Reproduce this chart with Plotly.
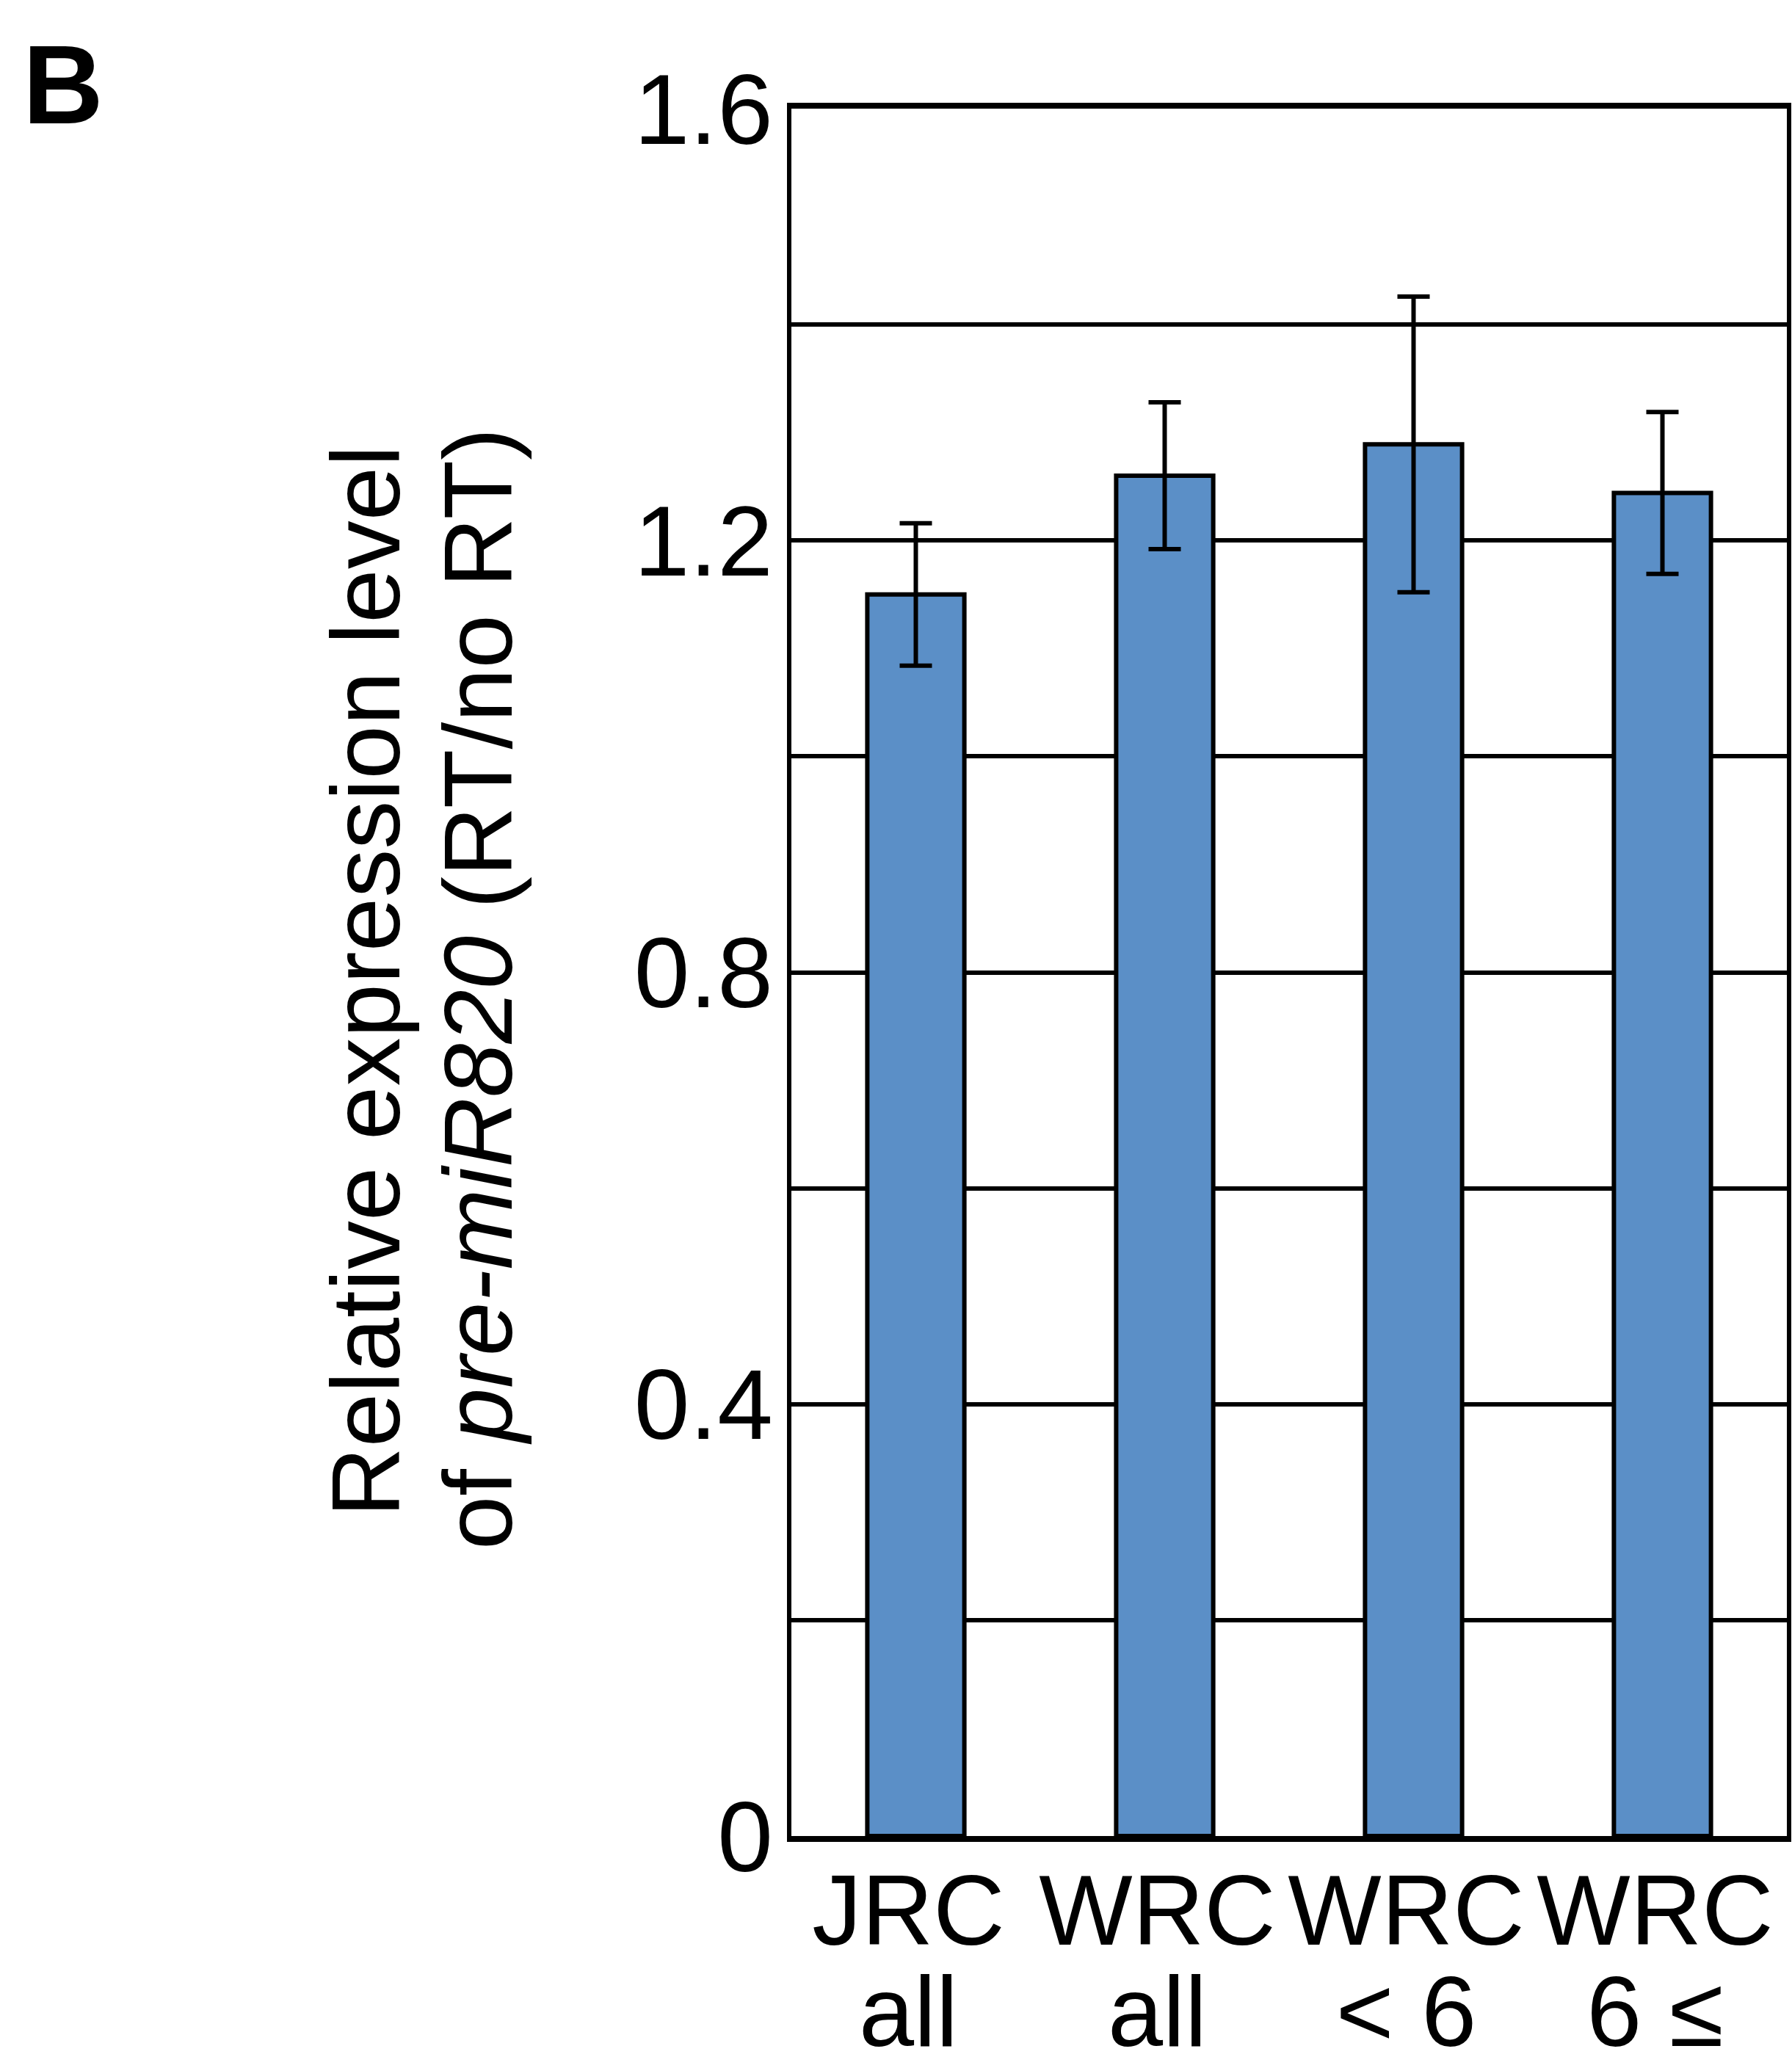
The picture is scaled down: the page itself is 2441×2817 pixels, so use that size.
import plotly.graph_objects as go

categories = ["JRC all", "WRC all", "WRC < 6", "WRC 6 ≤"]
label_line1 = ["JRC", "WRC", "WRC", "WRC"]
label_line2 = ["all", "all", "< 6", "6 ≤"]
values = [1.150, 1.260, 1.289, 1.244]
errors = [0.066, 0.068, 0.137, 0.075]
tick_vals = [0, 0.2, 0.4, 0.6, 0.8, 1.0, 1.2, 1.4, 1.6]
tick_text = ["0", "", "0.4", "", "0.8", "", "1.2", "", "1.6"]
title_line1 = "Relative expression level"
title_line2 = "of <i>pre-miR820</i> (RT/no RT)"

FONT = "Liberation Sans, Arial, sans-serif"
BAR_COLOR = "#5B8FC7"

fig = go.Figure()
fig.add_trace(go.Bar(
    x=categories,
    y=values,
    width=0.39,
    marker=dict(color=BAR_COLOR, line=dict(color="black", width=6)),
    error_y=dict(type="data", array=errors, visible=True, color="black",
                 thickness=6, width=22),
    hoverinfo="skip",
))
# invisible helper trace so the second label row (second axis) is drawn
fig.add_trace(go.Scatter(
    x=[0, len(categories) - 1], y=[0, 0], xaxis="x2", yaxis="y",
    mode="markers", marker=dict(opacity=0), hoverinfo="skip", showlegend=False,
))

fig.update_layout(
    width=2441,
    height=2817,
    margin=dict(l=1078, r=7, t=148, b=316, pad=0),
    plot_bgcolor="white",
    paper_bgcolor="white",
    showlegend=False,
    font=dict(family=FONT, color="black"),
    xaxis=dict(
        type="category",
        range=[-0.5, 3.5],
        tickmode="array", tickvals=categories, ticktext=label_line1,
        showline=True, linecolor="black", linewidth=8, mirror=True,
        ticks="", showgrid=False, automargin=False,
        tickfont=dict(size=135, family=FONT, color="black"),
        ticklabelstandoff=-22,
        ticklabelshift=-10,
    ),
    xaxis2=dict(
        overlaying="x", anchor="y", side="bottom",
        range=[-0.5, 3.5],
        tickmode="array", tickvals=list(range(len(categories))), ticktext=label_line2,
        showline=True, linecolor="black", linewidth=8,
        ticks="", showgrid=False, zeroline=False, automargin=False,
        tickfont=dict(size=135, family=FONT, color="black"),
        ticklabelstandoff=116,
        ticklabelshift=-10,
    ),
    yaxis=dict(
        range=[0, 1.6],
        tickmode="array", tickvals=tick_vals, ticktext=tick_text,
        showline=True, linecolor="black", linewidth=6, mirror=True,
        ticks="", showgrid=True, gridcolor="black", gridwidth=6,
        zeroline=False, automargin=False,
        tickfont=dict(size=136, family=FONT, color="black"),
        ticklabelstandoff=-8,
    ),
)

fig.add_annotation(
    text=title_line1,
    xref="paper", yref="paper", x=-0.4277, y=0.4949,
    xanchor="center", yanchor="middle", textangle=-90,
    showarrow=False, font=dict(size=132, family=FONT, color="black"),
)
fig.add_annotation(
    text=title_line2,
    xref="paper", yref="paper", x=-0.3149, y=0.4904,
    xanchor="center", yanchor="middle", textangle=-90,
    showarrow=False, font=dict(size=132, family=FONT, color="black"),
)
fig.add_annotation(
    text="<b>B</b>",
    xref="paper", yref="paper", x=-0.7736, y=1.014,
    xanchor="left", yanchor="middle",
    showarrow=False, font=dict(size=152, family=FONT, color="black"),
)

fig.write_html("out.html", config={"displayModeBar": False},
               post_script="document.body.style.margin='0';")
